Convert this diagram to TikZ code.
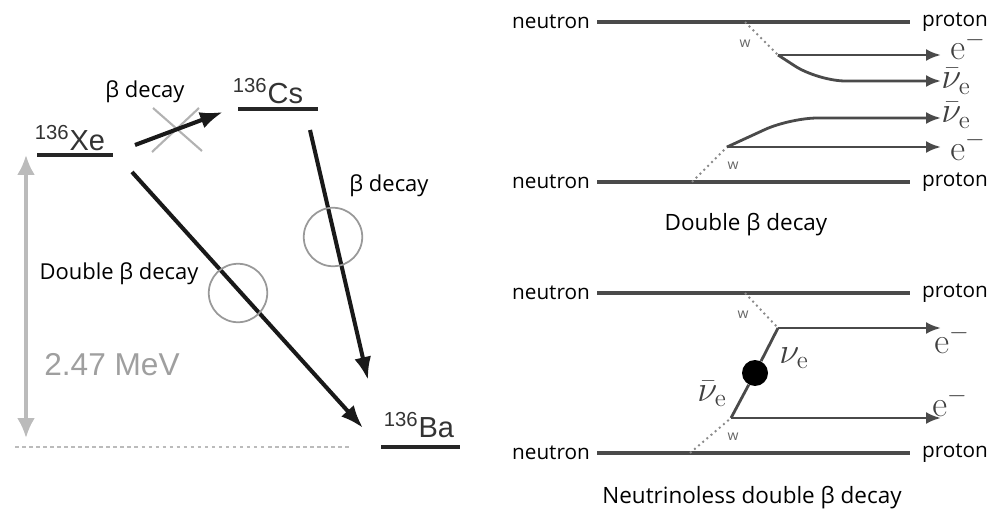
\documentclass[tikz,border=0pt]{standalone}
\usepackage[no-math]{fontspec}
\setmainfont{Open Sans}
\setsansfont{Liberation Sans}
\usepackage{xcolor}
\usetikzlibrary{arrows.meta,positioning}
\definecolor{gapgray}{HTML}{BBBBBB}
\definecolor{ringgray}{HTML}{999999}
\definecolor{wiregray}{HTML}{4A4A4A}
\definecolor{bosongray}{HTML}{8A8A8A}

\begin{document}
\begin{tikzpicture}[x=0.02cm,y=-0.02cm,
  font=\fontsize{11.8}{13}\selectfont,
  lvl/.style={font=\sffamily\fontsize{16.5}{18}\selectfont,text=black!80,inner sep=0pt},
  lvlline/.style={line width=2.3pt,black!85},
  big/.style={-{Latex[length=4.6mm,width=3.4mm]},line width=2.3pt,black!90},
  veto/.style={line width=1.2pt,black!30},
  gap/.style={{Latex[length=4mm,width=3.6mm]}-{Latex[length=4mm,width=3.6mm]},line width=2pt,gapgray},
  ring/.style={circle,draw=ringgray,line width=1pt,minimum size=1.17cm,inner sep=0pt},
  lbl/.style={font=\fontsize{12.5}{14}\selectfont,inner sep=0pt},
  nucleon/.style={line width=1.8pt,wiregray},
  wline/.style={dotted,line width=1.1pt,bosongray},
  lep/.style={-{Latex[length=3mm,width=2.4mm]},line width=1.6pt,wiregray},
  part/.style={font=\fontsize{22}{24}\selectfont,inner sep=0pt,text=black!75,anchor=base west},
  wlbl/.style={font=\fontsize{8}{9}\selectfont,text=black!60,inner sep=0pt},
  caption/.style={font=\fontsize{12.8}{15}\selectfont,inner sep=0pt}]
\useasboundingbox (0,0) rectangle (994,517);

\node[lvl] (xe) at (70,138) {\textsuperscript{136}Xe};
\node[lvl] (cs) at (268,91) {\textsuperscript{136}Cs};
\node[lvl] (ba) at (419,425) {\textsuperscript{136}Ba};
\draw[lvlline] (37,155) -- (113,155);
\draw[lvlline] (238,109) -- (318,109);
\draw[lvlline] (381,447) -- (460,447);
\draw[gapgray,line width=1.6pt,dash pattern=on 2pt off 2pt] (15,447) -- (352,447);

\coordinate (xe-a) at (135,145);
\coordinate (xe-b) at (132,172);
\coordinate (cs-a) at (223,112);
\coordinate (cs-b) at (310,130);
\coordinate (ba-a) at (368,380);
\coordinate (ba-b) at (363,428);
\coordinate (top) at (26,155);
\coordinate (bot) at (26,438);

\draw[veto] (153,108) -- (202,151);
\draw[veto] (152,152) -- (199,108);
\draw[big] (xe-a) -- (cs-a);
\draw[big] (cs-b) -- (ba-a);
\draw[big] (xe-b) -- (ba-b);
\node[ring] (r1) at (333,237) {};
\node[ring] (r2) at (238,293) {};
\draw[gap] (top) -- (bot);

\node[lbl] (b1) at (145,92) {β decay};
\node[lbl] (b2) at (389,186) {β decay};
\node[lbl] (b3) at (119,274) {Double β decay};
\node[font=\sffamily\fontsize{18}{20}\selectfont,text=gapgray!85!black,inner sep=0pt] (mev) at (112,365) {2.47 MeV};

\node (n1) at (551,22) {neutron};
\node (p1) at (955,22) {proton};
\node (n2) at (551,182) {neutron};
\node (p2) at (955,182) {proton};
\draw[nucleon,shorten <=0.02cm,shorten >=0.12cm] (n1) -- (p1);
\draw[nucleon,shorten <=0.02cm,shorten >=0.12cm] (n2) -- (p2);
\coordinate (w1) at (745,22);
\coordinate (v1) at (778,55);
\coordinate (w2) at (692,182);
\coordinate (v2) at (727,147);
\coordinate (t1) at (941,55);
\coordinate (t2) at (941,81);
\coordinate (t3) at (941,118);
\coordinate (t4) at (941,147);
\draw[wline] (w1) -- (v1);
\draw[wline] (w2) -- (v2);
\node[wlbl] (wa) at (745,44) {w};
\node[wlbl] (wb) at (733,166) {w};
\draw[lep] (v1) -- (t1);
\draw[lep,rounded corners=0.55cm] (v1) -- (818,81) -- (t2);
\draw[lep,rounded corners=0.55cm] (v2) -- (790,118) -- (t3);
\draw[lep] (v2) -- (t4);
\node[part] (e1) at (950,60) {$\mathrm{e}^-$};
\node[part] (nu1) at (941,89) {$\bar\nu_{\mathrm{e}}$};
\node[part] (nu2) at (941,123) {$\bar\nu_{\mathrm{e}}$};
\node[part] (e2) at (950,160) {$\mathrm{e}^-$};
\node[caption] (c1) at (746,225) {Double β decay};

\node (n3) at (551,293) {neutron};
\node (p3) at (955,293) {proton};
\node (n4) at (551,453) {neutron};
\node (p4) at (955,453) {proton};
\draw[nucleon,shorten <=0.02cm,shorten >=0.12cm] (n3) -- (p3);
\draw[nucleon,shorten <=0.02cm,shorten >=0.12cm] (n4) -- (p4);
\coordinate (w3) at (745,293);
\coordinate (v3) at (778,328);
\coordinate (w4) at (690,453);
\coordinate (v4) at (731,418);
\coordinate (t5) at (941,328);
\coordinate (t6) at (941,418);
\node[circle,fill=black,inner sep=0pt,minimum size=0.52cm] (mj) at (755,373) {};
\draw[wline] (w3) -- (v3);
\draw[wline] (w4) -- (v4);
\node[wlbl] (wc) at (743,315) {w};
\node[wlbl] (wd) at (733,437) {w};
\draw[line width=1.6pt,wiregray] (v3) -- (mj) -- (v4);
\draw[lep] (v3) -- (t5);
\draw[lep] (v4) -- (t6);
\node[part] (nu3) at (779,363) {$\nu_{\mathrm{e}}$};
\node[part] (nu4) at (697,401) {$\bar\nu_{\mathrm{e}}$};
\node[part] (e3) at (934,353) {$\mathrm{e}^-$};
\node[part] (e4) at (932,416) {$\mathrm{e}^-$};
\node[caption] (c2) at (752,498) {Neutrinoless double β decay};
\end{tikzpicture}
\end{document}
